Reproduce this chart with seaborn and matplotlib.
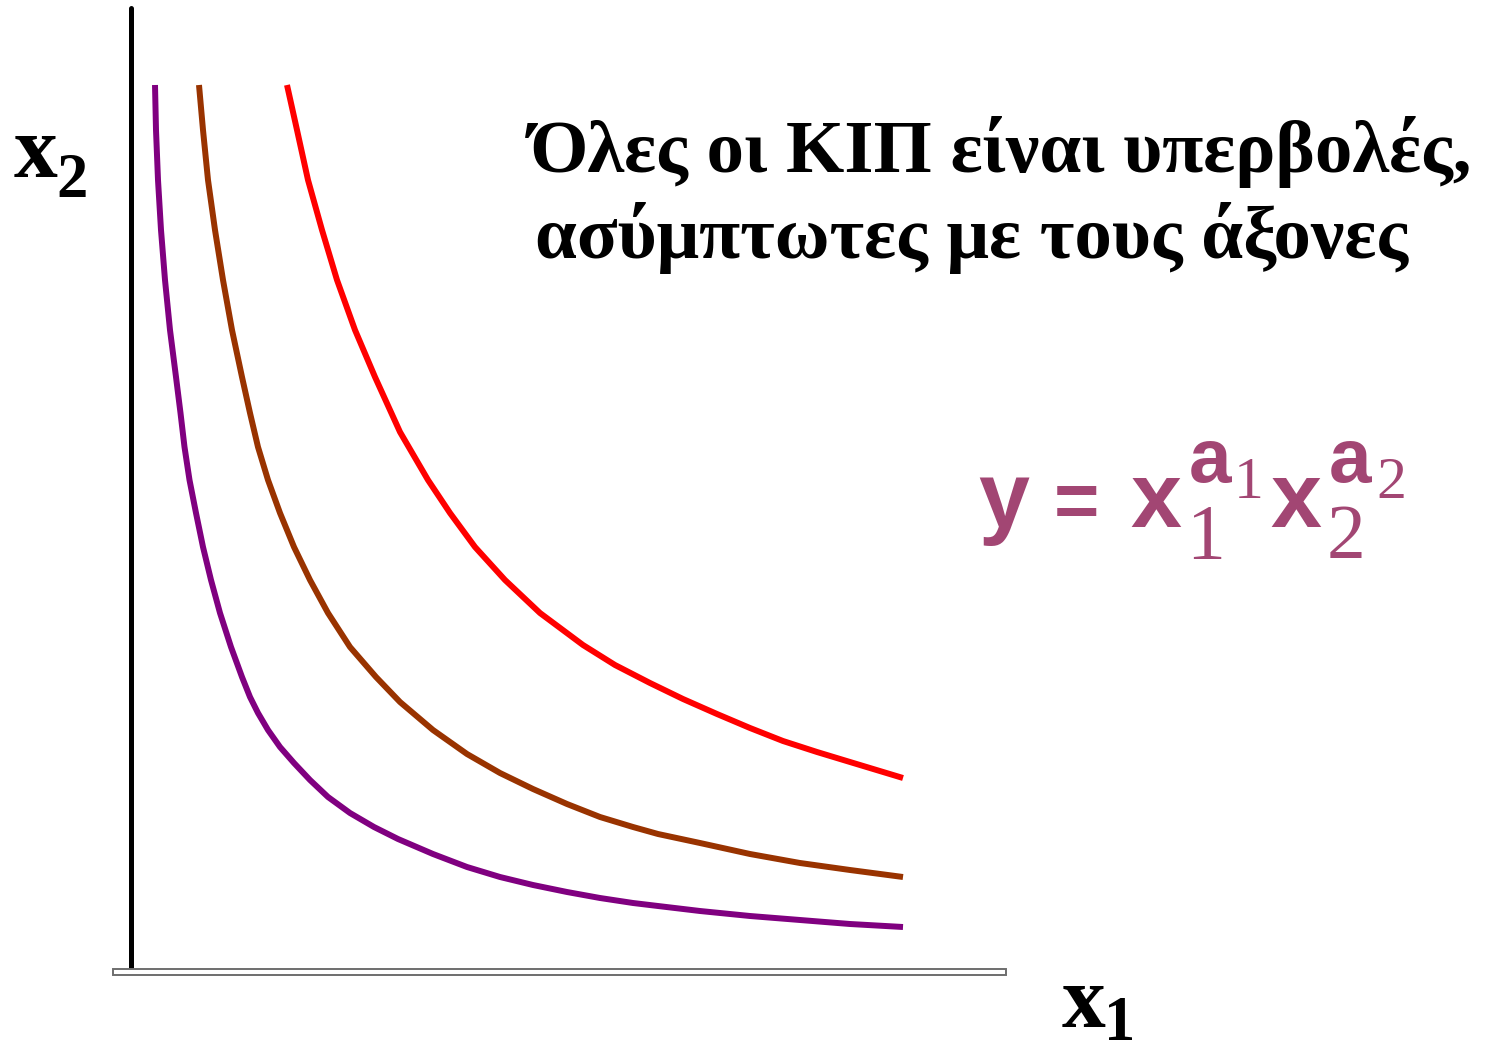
import numpy as np
import pandas as pd
import matplotlib
matplotlib.use("Agg")
import matplotlib.pyplot as plt
from matplotlib.patches import Rectangle
import seaborn as sns

# Isoquant curves (x1, x2) for three output levels
purple_x1 = [0.24, 0.25, 0.27, 0.30, 0.34, 0.39, 0.45, 0.495, 0.535, 0.585, 0.65, 0.72, 0.80,
             0.89, 1.00, 1.11, 1.19, 1.27, 1.37, 1.49, 1.63, 1.79, 1.97, 2.19, 2.43, 2.67,
             3.02, 3.36, 3.69, 4.02, 4.36, 4.69, 5.02, 5.27, 5.69, 6.19, 6.69, 7.19, 7.72]
purple_x2 = [8.85, 8.40, 7.90, 7.40, 6.90, 6.40, 5.93, 5.57, 5.23, 4.90, 4.57, 4.23, 3.90,
             3.57, 3.23, 2.93, 2.73, 2.57, 2.40, 2.23, 2.07, 1.90, 1.73, 1.57, 1.43, 1.31,
             1.16, 1.03, 0.93, 0.85, 0.78, 0.72, 0.67, 0.64, 0.59, 0.54, 0.50, 0.46, 0.43]

brown_x1 = [0.68, 0.72, 0.77, 0.84, 0.92, 1.01, 1.11, 1.19, 1.27, 1.37, 1.49, 1.63, 1.79,
            1.97, 2.19, 2.45, 2.69, 3.02, 3.36, 3.69, 4.02, 4.36, 4.69, 5.02, 5.27, 5.69,
            6.19, 6.69, 7.19, 7.72]
brown_x2 = [8.85, 8.40, 7.90, 7.40, 6.90, 6.40, 5.93, 5.57, 5.23, 4.90, 4.57, 4.23, 3.90,
            3.57, 3.23, 2.93, 2.68, 2.40, 2.16, 1.97, 1.81, 1.66, 1.53, 1.43, 1.36, 1.27,
            1.16, 1.07, 1.00, 0.93]

red_x1 = [1.56, 1.66, 1.77, 1.91, 2.06, 2.24, 2.44, 2.69, 2.97, 3.19, 3.44, 3.74, 4.09,
          4.52, 4.84, 5.19, 5.52, 5.86, 6.19, 6.52, 6.86, 7.19, 7.72]
red_x2 = [8.85, 8.40, 7.90, 7.40, 6.90, 6.40, 5.93, 5.38, 4.90, 4.57, 4.23, 3.90, 3.57,
          3.25, 3.05, 2.87, 2.71, 2.56, 2.42, 2.29, 2.18, 2.08, 1.92]

levels = ["y1", "y2", "y3"]
curve_colors = ["#800080", "#993300", "#ff0000"]

title_lines = ["Όλες οι ΚΙΠ είναι υπερβολές,", "ασύμπτωτες με τους άξονες"]
formula_color = "#a24673"

frames = []
for lvl, xs, ys in zip(levels, [purple_x1, brown_x1, red_x1], [purple_x2, brown_x2, red_x2]):
    frames.append(pd.DataFrame({"x1": xs, "x2": ys, "level": lvl}))
df = pd.concat(frames, ignore_index=True)

sns.set_theme(style="white")
plt.rcParams["font.family"] = ["Liberation Serif", "DejaVu Serif"]
plt.rcParams["text.color"] = "black"

W, H = 1487, 1054
fig = plt.figure(figsize=(W / 100, H / 100), dpi=100)
fig.patch.set_facecolor("white")


def fx(px):
    return px / W


def fy(py):
    return 1 - py / H


ax = fig.add_axes([fx(131), fy(970), 875 / W, 962 / H])
ax.set_xlim(0, 8.75)
ax.set_ylim(0, 9.62)
ax.axis("off")

sns.lineplot(data=df, x="x1", y="x2", hue="level", palette=curve_colors,
             estimator=None, sort=False, legend=False, linewidth=4.3, ax=ax,
             solid_capstyle="butt", solid_joinstyle="round")

# axes: solid vertical line, hollow horizontal bar
ax.axvline(0, color="black", linewidth=3.6, clip_on=False, zorder=3)
ax.add_patch(Rectangle((-0.18, -0.05), 8.93, 0.06, facecolor="white",
                       edgecolor="#6e6e6e", linewidth=1.4, clip_on=False, zorder=4))

# axis labels
lab_main = dict(family="Liberation Serif", fontweight="bold", color="black",
                va="baseline", ha="left")
fig.text(fx(14), fy(177), "x", fontsize=63, **lab_main)
fig.text(fx(56), fy(197), "2", fontsize=45, **lab_main)
fig.text(fx(1062), fy(1027), "x", fontsize=63, **lab_main)
fig.text(fx(1104), fy(1040), "1", fontsize=45, **lab_main)

# heading
fig.text(fx(530), fy(172), title_lines[0], fontsize=54, fontweight="bold",
         color="black", va="baseline", ha="left")
fig.text(fx(535), fy(258), title_lines[1], fontsize=54, fontweight="bold",
         color="black", va="baseline", ha="left")

# formula y = x1^a1 x2^a2
sans = dict(family="Liberation Sans", fontweight="bold", color=formula_color, va="baseline", ha="left")
serif = dict(family="Liberation Serif", color=formula_color, va="baseline", ha="left")
fig.text(fx(978), fy(527), "y", fontsize=66, **sans)
fig.text(fx(1054), fy(527), "=", fontsize=56, **sans)
fig.text(fx(1130), fy(527), "x", fontsize=66, **sans)
fig.text(fx(1186), fy(558), "1", fontsize=56, **serif)
fig.text(fx(1189), fy(482), "a", fontsize=55, **sans)
fig.text(fx(1234), fy(498), "1", fontsize=43, **serif)
fig.text(fx(1270), fy(527), "x", fontsize=66, **sans)
fig.text(fx(1327), fy(558), "2", fontsize=56, **serif)
fig.text(fx(1329), fy(482), "a", fontsize=55, **sans)
fig.text(fx(1376), fy(498), "2", fontsize=43, **serif)

fig.savefig("out.png", dpi=100, facecolor="white")
